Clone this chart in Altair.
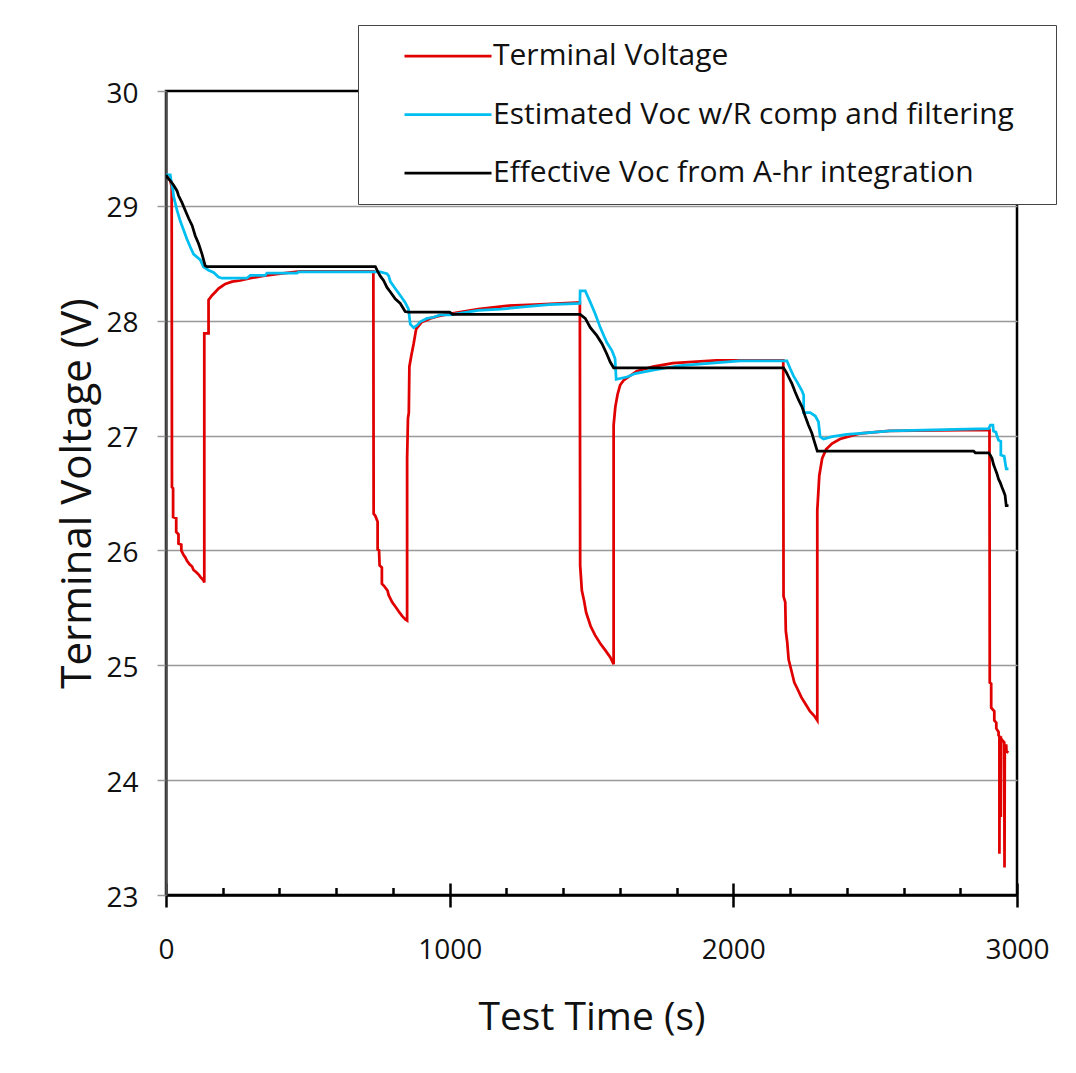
import altair as alt
import pandas as pd

# ---------------- data ----------------
red_t = [0, 15, 20, 21, 25, 25, 36, 36, 44, 44, 54, 54, 62, 68, 74, 83, 92, 97, 107, 115, 121, 132, 135,
         135, 150, 150, 162, 174, 185, 197, 209, 233, 262, 297, 343, 403, 473, 731,
         732, 738, 746, 746, 751, 753, 761, 761, 769, 781, 785, 797, 809, 820, 832, 844, 850,
         850, 853, 856, 858, 865, 873, 882, 902, 914, 932, 960, 1000, 1100, 1200, 1300, 1459,
         1460, 1466, 1474, 1481, 1497, 1513, 1531, 1549, 1566, 1578,
         1578, 1584, 1592, 1601, 1613, 1630, 1659, 1717, 1787, 1940, 2176,
         2177, 2183, 2185, 2190, 2195, 2205, 2215, 2225, 2240, 2255, 2270, 2285, 2296,
         2296, 2303, 2313, 2327, 2348, 2376, 2450, 2550, 2902,
         2903, 2904, 2909, 2909, 2920, 2920, 2927, 2927, 2935, 2935, 2938, 2938, 2939, 2943, 2943,
         2944, 2947, 2955, 2956, 2957, 2962, 2963, 2970]
red_v = [29.27, 29.22, 29.17, 26.55, 26.54, 26.29, 26.28, 26.16, 26.14, 26.06, 26.05, 26.00, 25.96, 25.94,
         25.91, 25.88, 25.86, 25.83, 25.81, 25.79, 25.77, 25.74, 25.72,
         27.89, 27.89, 28.18, 28.22, 28.25, 28.28, 28.30, 28.32, 28.34, 28.35, 28.37, 28.39, 28.41, 28.43, 28.43,
         26.32, 26.30, 26.25, 26.01, 26.00, 25.87, 25.85, 25.71, 25.69, 25.65, 25.61, 25.55, 25.51, 25.47,
         25.43, 25.40, 25.39,
         26.80, 27.15, 27.20, 27.60, 27.70, 27.80, 27.93, 27.99, 28.00, 28.02, 28.04, 28.06, 28.10, 28.13,
         28.14, 28.16,
         25.87, 25.65, 25.56, 25.46, 25.34, 25.26, 25.19, 25.13, 25.07, 25.01,
         27.09, 27.25, 27.36, 27.44, 27.48, 27.51, 27.56, 27.60, 27.63, 27.655, 27.655,
         25.60, 25.55, 25.30, 25.20, 25.05, 24.95, 24.85, 24.80, 24.72, 24.66, 24.60, 24.56, 24.52,
         26.35, 26.65, 26.80, 26.88, 26.93, 26.97, 27.02, 27.04, 27.05,
         27.05, 24.85, 24.84, 24.63, 24.60, 24.52, 24.50, 24.45, 24.42, 24.39, 24.38, 23.36, 24.35, 24.36,
         23.68, 24.36, 24.35, 24.33, 23.24, 24.30, 24.30, 24.25, 24.24]

cyan_t = [0, 15, 18, 25, 27, 39, 50, 62, 74, 86, 97, 121, 132, 150, 168, 185, 197, 285, 297, 350, 356,
          462, 467, 755, 779, 785, 791, 808, 826, 843, 855, 861, 873, 885, 896, 920, 943, 967, 1002,
          1050, 1100, 1180, 1260, 1350, 1459, 1460, 1478, 1496, 1513, 1531, 1554, 1572, 1583,
          1587, 1625, 1654, 1717, 1813, 2024, 2189, 2201, 2212, 2224, 2242, 2248, 2248, 2271, 2289,
          2300, 2306, 2318, 2348, 2400, 2447, 2553, 2900, 2906, 2915, 2917, 2926, 2929, 2935, 2943,
          2943, 2955, 2958, 2962, 2970]
cyan_v = [29.27, 29.27, 29.22, 29.13, 29.08, 28.96, 28.87, 28.79, 28.71, 28.64, 28.58, 28.53, 28.47,
          28.44, 28.42, 28.38, 28.37, 28.37, 28.395, 28.395, 28.415, 28.415, 28.425, 28.425, 28.41,
          28.39, 28.34, 28.28, 28.22, 28.16, 28.10, 27.97, 27.94, 27.96, 27.99, 28.02, 28.03, 28.05,
          28.05, 28.07, 28.09, 28.10, 28.12, 28.14, 28.15, 28.26, 28.26, 28.16, 28.06, 27.94, 27.81,
          27.74, 27.67, 27.49, 27.51, 27.54, 27.57, 27.61, 27.65, 27.65, 27.58, 27.52, 27.47,
          27.39, 27.35, 27.20, 27.20, 27.17, 27.12, 26.99, 26.97, 26.99, 27.01, 27.02, 27.04, 27.06,
          27.09, 27.09, 27.04, 27.03, 27.00, 26.96, 26.95, 26.83, 26.82, 26.77, 26.71, 26.71]

black_t = [0, 4, 15, 27, 39, 44, 56, 68, 80, 92, 103, 115, 127, 138, 144, 738, 744, 755, 767, 779, 791,
           808, 826, 843, 855, 1000, 1010, 1460, 1478, 1496, 1519, 1537, 1554, 1566, 1578,
           2177, 2187, 2195, 2207, 2218, 2230, 2242, 2253, 2265, 2277, 2283, 2296, 2847, 2853, 2900,
           2906, 2912, 2917, 2923, 2929, 2935, 2941, 2947, 2952, 2958, 2962, 2970]
black_v = [29.27, 29.25, 29.22, 29.18, 29.13, 29.09, 29.03, 28.96, 28.89, 28.83, 28.74, 28.67, 28.58,
           28.48, 28.47, 28.47, 28.44, 28.39, 28.35, 28.29, 28.25, 28.19, 28.15, 28.08, 28.075, 28.075,
           28.055, 28.055, 28.02, 27.94, 27.87, 27.80, 27.71, 27.64, 27.59, 27.59, 27.55,
           27.51, 27.45, 27.38, 27.31, 27.25, 27.17, 27.09, 27.02, 26.97, 26.865, 26.865, 26.85, 26.85,
           26.83, 26.80, 26.75, 26.71, 26.67, 26.62, 26.59, 26.55, 26.52, 26.48, 26.39, 26.39]

series_names = ["Terminal Voltage",
                "Estimated Voc w/R comp and filtering",
                "Effective Voc from A-hr integration"]
series_colors = ["#E00000", "#00BFF0", "#000000"]

x_major = [0, 1000, 2000, 3000]
x_minor = [200, 400, 600, 800, 1200, 1400, 1600, 1800, 2200, 2400, 2600, 2800]
y_ticks = [23, 24, 25, 26, 27, 28, 29, 30]

# ---------------- table ----------------
rows = []
for name, ts, vs in zip(series_names, [red_t, cyan_t, black_t], [red_v, cyan_v, black_v]):
    for i, (t, v) in enumerate(zip(ts, vs)):
        rows.append({"series": name, "t": t, "v": v, "i": i})
df = pd.DataFrame(rows)

FONT = "Open Sans"
xscale = alt.Scale(domain=[0, 3000], nice=False, zero=False)
yscale = alt.Scale(domain=[23, 30], nice=False, zero=False)

lines = alt.Chart(df).mark_line(strokeWidth=2.75, clip=True).encode(
    x=alt.X("t:Q", scale=xscale,
            axis=alt.Axis(orient="bottom", values=x_major, format="d", labelFlush=False,
                          grid=False, domainColor="black",
                          domainWidth=2.5, tickColor="black", tickWidth=2.5, tickSize=12,
                          labelFontSize=28, labelPadding=29, labelColor="#111", labelFont=FONT,
                          title="Test Time (s)", titleFontSize=39, titleFont=FONT,
                          titleFontWeight="normal", titleColor="#111", titlePadding=34)),
    y=alt.Y("v:Q", scale=yscale,
            axis=alt.Axis(values=y_ticks, format="d", labelFlush=False, grid=True,
                          gridColor="#999999", gridWidth=1.3,
                          gridOpacity={"condition": {"test": "datum.value == 30 || datum.value == 23",
                                                     "value": 0}, "value": 1},
                          domainColor="#4d4d4d", domainWidth=2.5, tickColor="#999999",
                          tickWidth=1.5, tickSize=9, labelFontSize=28, labelPadding=19,
                          labelOffset=3, labelColor="#111", labelFont=FONT,
                          title="Terminal Voltage (V)", titleFontSize=42, titleFont=FONT,
                          titleFontWeight="normal", titleColor="#111", titlePadding=6)),
    color=alt.Color("series:N",
                    scale=alt.Scale(domain=series_names, range=series_colors),
                    legend=alt.Legend(orient="none", legendX=192, legendY=-66, title=" ",
                                      titleOrient="right", titlePadding=26, titleFontSize=10,
                                      direction="vertical", strokeColor="#444444",
                                      fillColor="white", padding=16, symbolType="stroke",
                                      symbolSize=7569, symbolStrokeWidth=2.75, symbolOffset=29,
                                      labelOffset=0, clipHeight=30, rowPadding=28.5,
                                      labelFontSize=30, labelFont=FONT, labelColor="#111",
                                      labelLimit=900)),
    order=alt.Order("i:Q"),
)

inner_major = alt.Chart(df).mark_point(opacity=0).encode(
    x=alt.X("t:Q", scale=xscale,
            axis=alt.Axis(orient="bottom", offset=-12, values=x_major, tickSize=12, tickWidth=2.5,
                          tickColor="black", labels=False, domain=False, grid=False, title=None)),
)

minor = alt.Chart(df).mark_point(opacity=0).encode(
    x=alt.X("t:Q", scale=xscale,
            axis=alt.Axis(orient="bottom", offset=-7.5, values=x_minor, tickSize=7.5, tickWidth=2.5,
                          tickColor="black", labels=False, domain=False, grid=False, title=None)),
)

chart = alt.layer(lines, inner_major, minor).resolve_axis(x="independent").properties(
    width=851, height=804,
    padding={"left": 158, "top": 83, "right": 50, "bottom": 170},
    autosize=alt.AutoSizeParams(type="none"),
    background="white",
).configure_view(stroke="black", strokeWidth=2.5)

chart.save("out.html", embed_options={"renderer": "svg", "actions": False})
